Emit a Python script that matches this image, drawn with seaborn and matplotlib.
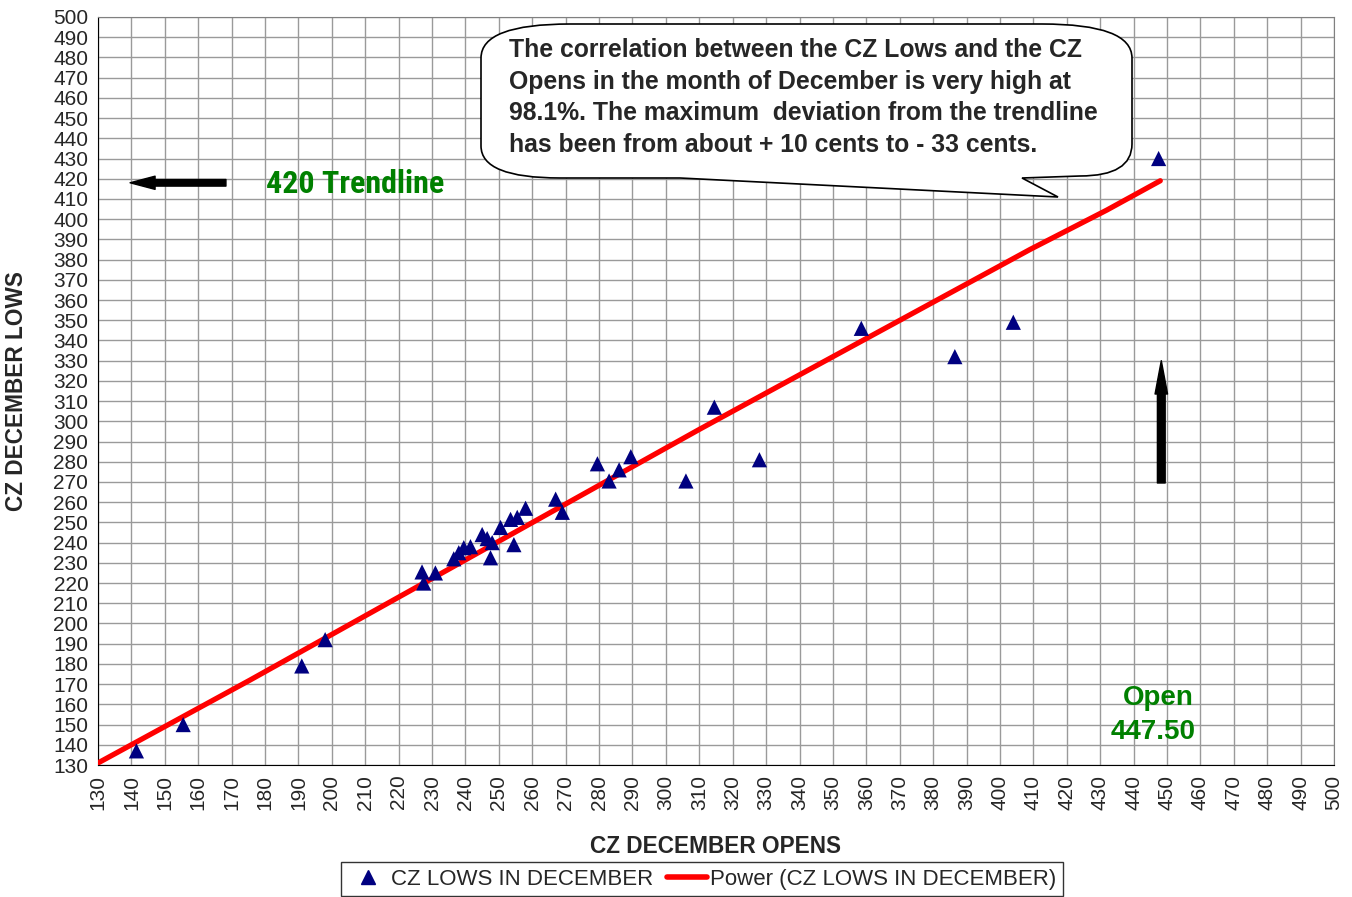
import pandas as pd
import matplotlib
matplotlib.use("Agg")
import matplotlib.pyplot as plt
import seaborn as sns
from matplotlib import font_manager
from matplotlib.path import Path
from matplotlib.patches import PathPatch
from matplotlib.lines import Line2D

# CZ December opens (x) and lows (y)
opens = [141.5, 155.5, 191, 198, 227, 227.5, 231, 236.5, 238, 239.5, 241.5, 245,
         246.5, 248, 247.5, 250.5, 253.5, 255.5, 254.5, 258, 267, 269, 279.5,
         283, 286, 289.5, 306, 314.5, 328, 358.5, 386.5, 404, 447.5]
lows = [137, 150, 179, 192, 225.5, 220, 225, 232, 235, 237.5, 238, 244,
        242, 240, 232.5, 247.5, 251.5, 252.5, 239, 257, 261.5, 255, 279,
        270.5, 276, 282.5, 270.5, 307, 281, 346, 332, 349, 430]

# power trendline, points
trend_open = [130, 175.5, 310, 330, 409, 432, 448]
trend_low = [131, 172, 296, 314, 385, 404.5, 419]

ticks = list(range(130, 501, 10))

callout_lines = ["The correlation between the CZ Lows and the CZ",
                 "Opens in the month of December is very high at",
                 "98.1%. The maximum  deviation from the trendline",
                 "has been from about + 10 cents to - 33 cents."]

df = pd.DataFrame({"open": opens, "low": lows})
trend = pd.DataFrame({"open": trend_open, "low": trend_low})

sns.set_style("white")
plt.rcParams["font.family"] = ["Liberation Sans", "DejaVu Sans"]

# narrow face for the big green label if one is around
installed = {f.name for f in font_manager.fontManager.ttflist}
narrow = None
for name in ["Liberation Sans Narrow", "Roboto Condensed", "Open Sans Condensed",
             "DejaVu Sans Condensed"]:
    if name in installed:
        narrow = name
        break

W, H = 1352, 897
fig = plt.figure(figsize=(W / 100, H / 100), dpi=100)
ax = fig.add_axes([98 / W, 1 - 765 / H, (1334 - 98) / W, (765 - 17) / H])

sns.lineplot(data=trend, x="open", y="low", color="#ff0000", linewidth=3.8,
             ax=ax, zorder=3, legend=False, sort=True)
sns.scatterplot(data=df, x="open", y="low", marker="^", color="#000080",
                s=120, edgecolor="none", ax=ax, zorder=4, legend=False)

ax.set_xlim(130, 500)
ax.set_ylim(130, 500)
ax.set_xticks(ticks)
ax.set_yticks(ticks)
ax.set_xticklabels([str(t) for t in ticks], rotation=90, fontsize=15)
ax.set_yticklabels([str(t) for t in ticks], fontsize=15)
ax.tick_params(axis="both", direction="out", length=5, width=1, color="black", pad=2)
ax.grid(True, color="#9a9a9a", linewidth=1)
ax.set_axisbelow(True)
for side in ["left", "bottom"]:
    ax.spines[side].set_color("black")
for side in ["top", "right"]:
    ax.spines[side].set_color("#808080")

ax.set_xlabel("CZ DECEMBER OPENS", fontsize=16.3, fontweight="bold", labelpad=18)
ax.set_ylabel("CZ DECEMBER LOWS", fontsize=16.3, fontweight="bold", labelpad=18)

# speech-bubble callout (pixel coords, top-down)
def px(x, y):
    return (x / W, 1 - y / H)

verts = [px(570, 24), px(1042, 24), px(1132, 24), px(1132, 58),
         px(1132, 144), px(1132, 176), px(1080, 176), px(1022, 178),
         px(1058, 197), px(680, 178), px(560, 178), px(481, 178),
         px(481, 146), px(481, 58), px(481, 24), px(570, 24), px(570, 24)]
codes = [Path.MOVETO, Path.LINETO, Path.CURVE3, Path.CURVE3,
         Path.LINETO, Path.CURVE3, Path.CURVE3, Path.LINETO,
         Path.LINETO, Path.LINETO, Path.LINETO, Path.CURVE3,
         Path.CURVE3, Path.LINETO, Path.CURVE3, Path.CURVE3, Path.CLOSEPOLY]
fig.patches.append(PathPatch(Path(verts, codes), transform=fig.transFigure,
                             facecolor="white", edgecolor="black", linewidth=1.2,
                             zorder=5))
for i, line in enumerate(callout_lines):
    fig.text(509 / W, 1 - (50 + 31.7 * i) / H, line, fontsize=17.8,
             fontweight="bold", va="center", ha="left", zorder=6)

# green annotations
if narrow:
    ax.text(180.3, 417.5, "420 Trendline", family=[narrow, "Liberation Sans"],
            fontsize=23, fontweight="bold", color="#008000", va="center",
            ha="left", zorder=6)
else:
    ax.text(180.3, 417.5, "420 Trendline", fontsize=20, fontweight="bold",
            color="#008000", va="center", ha="left", zorder=6)
ax.text(447.5, 163, "Open", fontsize=20, fontweight="bold", color="#008000",
        va="center", ha="center", zorder=6)
ax.text(446, 146.5, "447.50", fontsize=20, fontweight="bold", color="#008000",
        va="center", ha="center", zorder=6)

# black arrows
ax.annotate("", xy=(139.6, 418), xytext=(168.3, 418),
            arrowprops=dict(arrowstyle="simple,head_length=1.8,head_width=0.95,tail_width=0.48",
                            mutation_scale=10, color="black", shrinkA=0, shrinkB=0),
            zorder=6)
ax.annotate("", xy=(448.3, 330), xytext=(448.3, 269.5),
            arrowprops=dict(arrowstyle="simple,head_length=2.4,head_width=0.9,tail_width=0.56",
                            mutation_scale=10, color="black", shrinkA=0, shrinkB=0),
            zorder=6)

handles = [Line2D([], [], marker="^", color="#000080", linestyle="none", markersize=10),
           Line2D([], [], color="#ff0000", linewidth=4)]
leg = fig.legend(handles, ["CZ LOWS IN DECEMBER", "Power (CZ LOWS IN DECEMBER)"],
                 loc="upper center", bbox_to_anchor=(702 / W, 1 - 862 / H), ncol=2,
                 fontsize=16, frameon=True, fancybox=False, edgecolor="black",
                 handlelength=1.8, handletextpad=0.15, columnspacing=0.6,
                 borderpad=0.3, borderaxespad=0)
leg.get_frame().set_linewidth(1)

fig.savefig("out.png", dpi=100)
